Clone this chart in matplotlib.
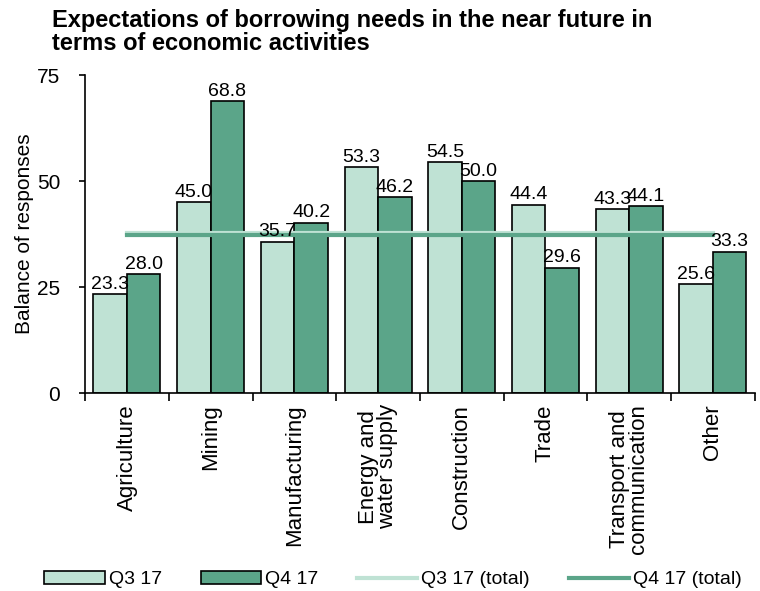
import numpy as np
import matplotlib
matplotlib.use("Agg")
import matplotlib.pyplot as plt

plt.rcParams['font.family'] = ['Liberation Sans', 'DejaVu Sans']

categories = ["Agriculture", "Mining", "Manufacturing", "Energy and\nwater supply",
              "Construction", "Trade", "Transport and\ncommunication", "Other"]
q3 = [23.3, 45.0, 35.7, 53.3, 54.5, 44.4, 43.3, 25.6]
q4 = [28.0, 68.8, 40.2, 46.2, 50.0, 29.6, 44.1, 33.3]
q3_total = 37.8
q4_total = 37.2
yticks = [0, 25, 50, 75]

light = '#bfe2d4'
dark = '#5ba589'

fig = plt.figure(figsize=(7.6, 5.91), dpi=100)
ax = fig.add_axes([0.112, 0.335, 0.881, 0.538])

x = np.arange(len(categories))
w = 0.4
b1 = ax.bar(x - w / 2, q3, w, color=light, edgecolor='black', linewidth=1.2, label='Q3 17')
b2 = ax.bar(x + w / 2, q4, w, color=dark, edgecolor='black', linewidth=1.2, label='Q4 17')
ax.bar_label(b1, fmt='%.1f', padding=1, fontsize=14)
ax.bar_label(b2, fmt='%.1f', padding=1, fontsize=14)

l1, = ax.plot([x[0], x[-1]], [q3_total, q3_total], color=light, lw=3, label='Q3 17 (total)')
l2, = ax.plot([x[0], x[-1]], [q4_total, q4_total], color=dark, lw=3, label='Q4 17 (total)')

ax.set_xlim(-0.5, len(categories) - 0.5)
ax.set_ylim(0, 75)
ax.set_yticks(yticks)
ax.tick_params(axis='y', labelsize=15, direction='out', length=4, width=1.2, pad=14)

# ticks between groups, labels at centres
ax.set_xticks(np.arange(-0.5, len(categories)), minor=False)
ax.set_xticklabels([])
ax.set_xticks(x, minor=True)
ax.set_xticklabels(categories, minor=True, rotation=90, fontsize=16, linespacing=0.9)
ax.tick_params(axis='x', which='major', direction='out', length=6, width=1.2)
ax.tick_params(axis='x', which='minor', length=0, pad=8)

for s in ['top', 'right']:
    ax.spines[s].set_visible(False)
for s in ['left', 'bottom']:
    ax.spines[s].set_linewidth(1.2)

ax.set_ylabel('Balance of responses', fontsize=15, labelpad=2)

fig.text(0.068, 0.985, 'Expectations of borrowing needs in the near future in\nterms of economic activities',
         fontsize=17, fontweight='bold', va='top', ha='left', linespacing=1.0)

fig.legend(handles=[b1, b2, l1, l2], loc='lower center', bbox_to_anchor=(0.517, -0.025), ncol=4,
           frameon=False, fontsize=14, handlelength=3.1, handleheight=0.6, columnspacing=2.0,
           handletextpad=0.2)

fig.savefig('out.png', dpi=100)
